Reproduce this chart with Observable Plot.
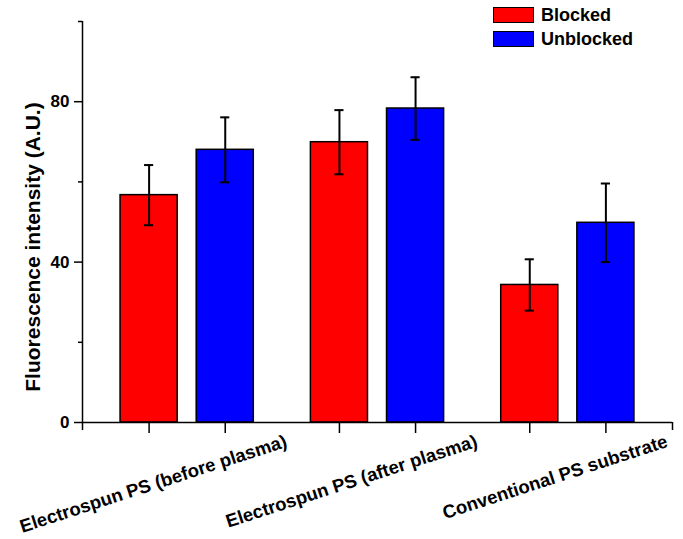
<!DOCTYPE html>
<html>
<head>
<meta charset="utf-8">
<script src="https://cdn.jsdelivr.net/npm/d3@7"></script>
<script src="https://cdn.jsdelivr.net/npm/@observablehq/plot@0.6"></script>
<style>
  body { margin: 0; background: #fff; }
  #wrap { position: relative; width: 683px; height: 539px; }
  #legend { position: absolute; left: 493px; top: 7px; font-weight: bold; font-size: 18px;
            font-family: "Liberation Sans", Arial, sans-serif; }
  .row { display: flex; align-items: center; height: 16px; margin-bottom: 8px; }
  .sw { width: 41px; height: 16px; box-sizing: border-box; border: 1.5px solid #000; margin-right: 7px; }
</style>
</head>
<body>
<div id="wrap"><div id="legend"></div></div>
<script>
// ---- data ----
const groups = ["Electrospun PS (before plasma)", "Electrospun PS (after plasma)", "Conventional PS substrate"];
const series = ["Blocked", "Unblocked"];
const blocked = [56.7, 69.9, 34.3];
const blockedErr = [7.5, 8.0, 6.4];
const unblocked = [68.0, 78.3, 49.8];
const unblockedErr = [8.1, 7.8, 9.8];
const yTicksMajor = [0, 40, 80];
const yTicksMinor = [20, 60, 100];
const yTitle = "Fluorescence intensity (A.U.)";
const colors = ["#ff0000", "#0000ff"];

// ---- layout constants (group-index units) ----
const PAD = 0.55, OFFSET = 0.2, HALF = 0.15, CAP = 0.024;
const xDomain = [-PAD, groups.length - 1 + PAD];

const values = [blocked, unblocked];
const errs = [blockedErr, unblockedErr];
const rows = [];
groups.forEach((g, gi) => series.forEach((s, si) => {
  rows.push({group: g, series: s, value: values[si][gi], err: errs[si][gi],
             xc: gi + (si === 0 ? -OFFSET : OFFSET)});
}));

const font = '"Liberation Sans", Arial, sans-serif';
const chart = Plot.plot({
  width: 683, height: 539,
  marginLeft: 82, marginRight: 11, marginTop: 21, marginBottom: 117,
  style: {fontFamily: font, fontWeight: "bold", fontSize: "17px", background: "white", color: "black"},
  x: {type: "linear", domain: xDomain, axis: null},
  y: {domain: [0, 100], axis: null},
  color: {domain: series, range: colors},
  marks: [
    Plot.rect(rows, {x1: d => d.xc - HALF, x2: d => d.xc + HALF, y1: () => 0, y2: "value",
                     fill: "series", stroke: "black", strokeWidth: 1.5}),
    Plot.ruleX(rows, {x: "xc", y1: d => d.value - d.err, y2: d => d.value + d.err, stroke: "black", strokeWidth: 2}),
    Plot.ruleY(rows, {y: d => d.value + d.err, x1: d => d.xc - CAP, x2: d => d.xc + CAP, stroke: "black", strokeWidth: 2}),
    Plot.ruleY(rows, {y: d => d.value - d.err, x1: d => d.xc - CAP, x2: d => d.xc + CAP, stroke: "black", strokeWidth: 2}),
    Plot.ruleX([xDomain[0]], {stroke: "black", strokeWidth: 1.5}),
    Plot.ruleY([0], {stroke: "black", strokeWidth: 1.5}),
    Plot.axisX({ticks: rows.map(d => d.xc), tickSize: 11, tickFormat: () => "", strokeWidth: 1.5, label: null}),
    Plot.axisX({ticks: xDomain, tickSize: 8, tickFormat: () => "", strokeWidth: 1.5, label: null}),
    Plot.axisY({ticks: yTicksMajor, tickSize: 8, tickPadding: 5, fontSize: 17, strokeWidth: 1.5, label: null}),
    Plot.axisY({ticks: yTicksMinor, tickSize: 4, tickFormat: () => "", strokeWidth: 1.5, label: null}),
    Plot.text([yTitle], {text: d => d, frameAnchor: "left", textAnchor: "middle", rotate: -90, dx: -49, dy: 25,
                         fontSize: 21, fontWeight: "bold", fill: "black"}),
    Plot.text(groups, {text: d => d, x: (d, i) => i, frameAnchor: "bottom", rotate: -18,
                       textAnchor: "end", dx: 101, dy: 24, fontSize: 18.5, fontWeight: "bold", fill: "black"})
  ]
});
const wrap = document.getElementById("wrap");
wrap.insertBefore(chart, wrap.firstChild);

const legend = document.getElementById("legend");
series.forEach((s, i) => {
  const row = document.createElement("div");
  row.className = "row";
  row.innerHTML = `<div class="sw" style="background:${colors[i]}"></div><span>${s}</span>`;
  legend.appendChild(row);
});
</script>
</body>
</html>
